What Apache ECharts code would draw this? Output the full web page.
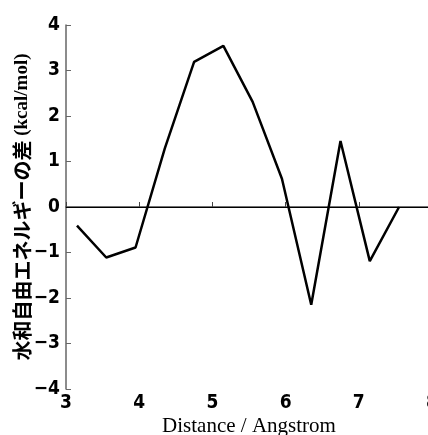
<!DOCTYPE html>
<html>
<head>
<meta charset="utf-8">
<script src="https://cdn.jsdelivr.net/npm/echarts@6/dist/echarts.min.js"></script>
<style>
  html, body { margin: 0; padding: 0; background: #fff; }
  #chart { width: 428px; height: 435px; }
</style>
</head>
<body>
<div id="chart"></div>
<script>
const distance = [3.15, 3.55, 3.95, 4.35, 4.75, 5.15, 5.55, 5.95, 6.35, 6.75, 7.15, 7.55];
const energyDiff = [-0.41, -1.11, -0.89, 1.29, 3.19, 3.54, 2.31, 0.62, -2.15, 1.45, -1.19, 0.0];

const chart = echarts.init(document.getElementById("chart"));

const tickFont = "'Liberation Sans Narrow', 'DejaVu Sans Condensed', sans-serif";

const option = {
  animation: false,
  grid: {
    left: 66,
    width: 366,
    top: 25,
    bottom: 46,
    outerBoundsMode: "none",
  },
  xAxis: {
    type: "value",
    min: 3,
    max: 8,
    interval: 1,
    name: "Distance / Angstrom",
    nameLocation: "middle",
    nameGap: 27,
    nameMoveOverlap: false,
    nameTextStyle: {
      fontFamily: "Liberation Serif",
      fontSize: 21,
      color: "#000",
    },
    axisLine: { lineStyle: { color: "#444", width: 1.5 } },
    axisTick: { inside: true, length: 5, lineStyle: { color: "#444" } },
    axisLabel: {
      color: "#000",
      fontFamily: tickFont,
      fontWeight: "bold",
      fontSize: 19,
      margin: 5,
    },
    splitLine: { show: false },
  },
  yAxis: {
    type: "value",
    min: -4,
    max: 4,
    interval: 1,
    name: "{jp|水和自由エネルギーの差}{en| (kcal/mol)}",
    nameLocation: "middle",
    nameGap: 34,
    nameMoveOverlap: false,
    nameTextStyle: {
      fontSize: 20,
      rich: {
        jp: {
          fontFamily: "Noto Sans CJK JP",
          fontWeight: "bold",
          fontSize: 20,
          color: "#000",
        },
        en: {
          fontFamily: "Liberation Serif",
          fontWeight: "bold",
          fontSize: 19,
          color: "#000",
        },
      },
    },
    axisLine: { show: true, lineStyle: { color: "#666", width: 1.5 } },
    axisTick: { show: true, inside: true, length: 5, lineStyle: { color: "#666" } },
    axisLabel: {
      color: "#000",
      fontFamily: tickFont,
      fontWeight: "bold",
      fontSize: 19,
      margin: 6,
      formatter: (v) => (v < 0 ? "\u2212" + Math.abs(v) : String(v)),
    },
    splitLine: { show: false },
  },
  series: [
    {
      type: "line",
      data: distance.map((d, i) => [d, energyDiff[i]]),
      showSymbol: false,
      lineStyle: { color: "#000", width: 2.5 },
      markLine: {
        silent: true,
        symbol: "none",
        label: { show: false },
        lineStyle: { color: "#000", width: 1, type: "solid" },
        data: [{ yAxis: 0 }],
      },
    },
  ],
};

chart.setOption(option);
</script>
</body>
</html>
